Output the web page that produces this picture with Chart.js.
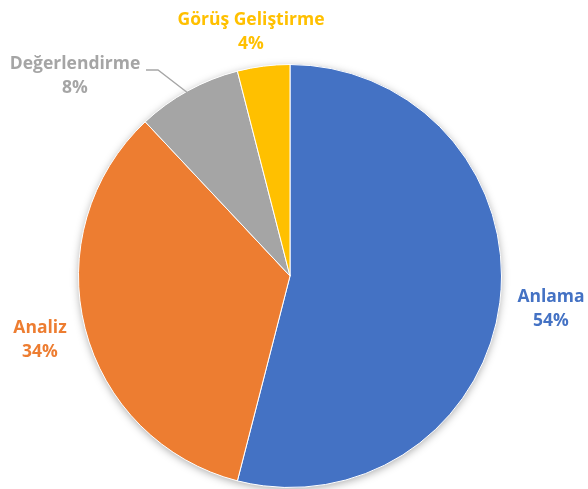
<!DOCTYPE html>
<html>
<head>
<meta charset="utf-8">
<script src="https://cdn.jsdelivr.net/npm/chart.js@4"></script>
<style>
  html, body { margin: 0; padding: 0; background: #fff; }
  #wrap { width: 588px; height: 489px; position: relative; }
</style>
</head>
<body>
<div id="wrap"><canvas id="c" width="588" height="489"></canvas></div>
<script>
const categories = ['Anlama', 'Analiz', 'Değerlendirme', 'Görüş Geliştirme'];
const shares = [54, 34, 8, 4];
const sliceColors = ['#4472C4', '#ED7D31', '#A5A5A5', '#FFC000'];

// Label placement (center of the two-line text block) and optional leader line
const labelSpots = [
  { x: 551, y: 309 },
  { x: 40, y: 340 },
  { x: 75, y: 76, leader: [[146, 70], [158, 70]] },
  { x: 251, y: 32 }
];

// Soft drop shadow behind the pie
const pieShadow = {
  id: 'pieShadow',
  beforeDatasetsDraw(chart) {
    const arc = chart.getDatasetMeta(0).data[0];
    if (!arc) return;
    const ctx = chart.ctx;
    ctx.save();
    ctx.shadowColor = 'rgba(0,0,0,0.35)';
    ctx.shadowBlur = 9;
    ctx.shadowOffsetY = 2;
    ctx.fillStyle = '#fff';
    ctx.beginPath();
    ctx.arc(arc.x, arc.y, arc.outerRadius - 0.5, 0, Math.PI * 2);
    ctx.fill();
    ctx.restore();
  }
};

// Category name and percentage outside each slice
const outsideLabels = {
  id: 'outsideLabels',
  afterDatasetsDraw(chart) {
    const ctx = chart.ctx;
    const meta = chart.getDatasetMeta(0);
    ctx.save();
    ctx.font = 'bold 17.5px "Open Sans", sans-serif';
    ctx.textAlign = 'center';
    ctx.textBaseline = 'middle';
    meta.data.forEach((arc, i) => {
      const spot = labelSpots[i];
      const color = sliceColors[i];
      if (spot.leader) {
        const mid = (arc.startAngle + arc.endAngle) / 2;
        const ex = arc.x + Math.cos(mid) * (arc.outerRadius - 5);
        const ey = arc.y + Math.sin(mid) * (arc.outerRadius - 5);
        ctx.strokeStyle = '#A6A6A6';
        ctx.lineWidth = 1.3;
        ctx.beginPath();
        ctx.moveTo(spot.leader[0][0], spot.leader[0][1]);
        ctx.lineTo(spot.leader[1][0], spot.leader[1][1]);
        ctx.lineTo(ex, ey);
        ctx.stroke();
      }
      ctx.fillStyle = color;
      ctx.fillText(categories[i], spot.x, spot.y - 12);
      ctx.fillText(shares[i] + '%', spot.x, spot.y + 12);
    });
    ctx.restore();
  }
};

new Chart(document.getElementById('c'), {
  type: 'pie',
  data: {
    labels: categories,
    datasets: [{
      data: shares,
      backgroundColor: sliceColors,
      borderColor: '#ffffff',
      borderWidth: 1
    }]
  },
  options: {
    responsive: false,
    animation: false,
    events: [],
    layout: { padding: { top: 64, bottom: 1, left: 78, right: 86 } },
    plugins: {
      legend: { display: false },
      tooltip: { enabled: false }
    }
  },
  plugins: [pieShadow, outsideLabels]
});
</script>
</body>
</html>
